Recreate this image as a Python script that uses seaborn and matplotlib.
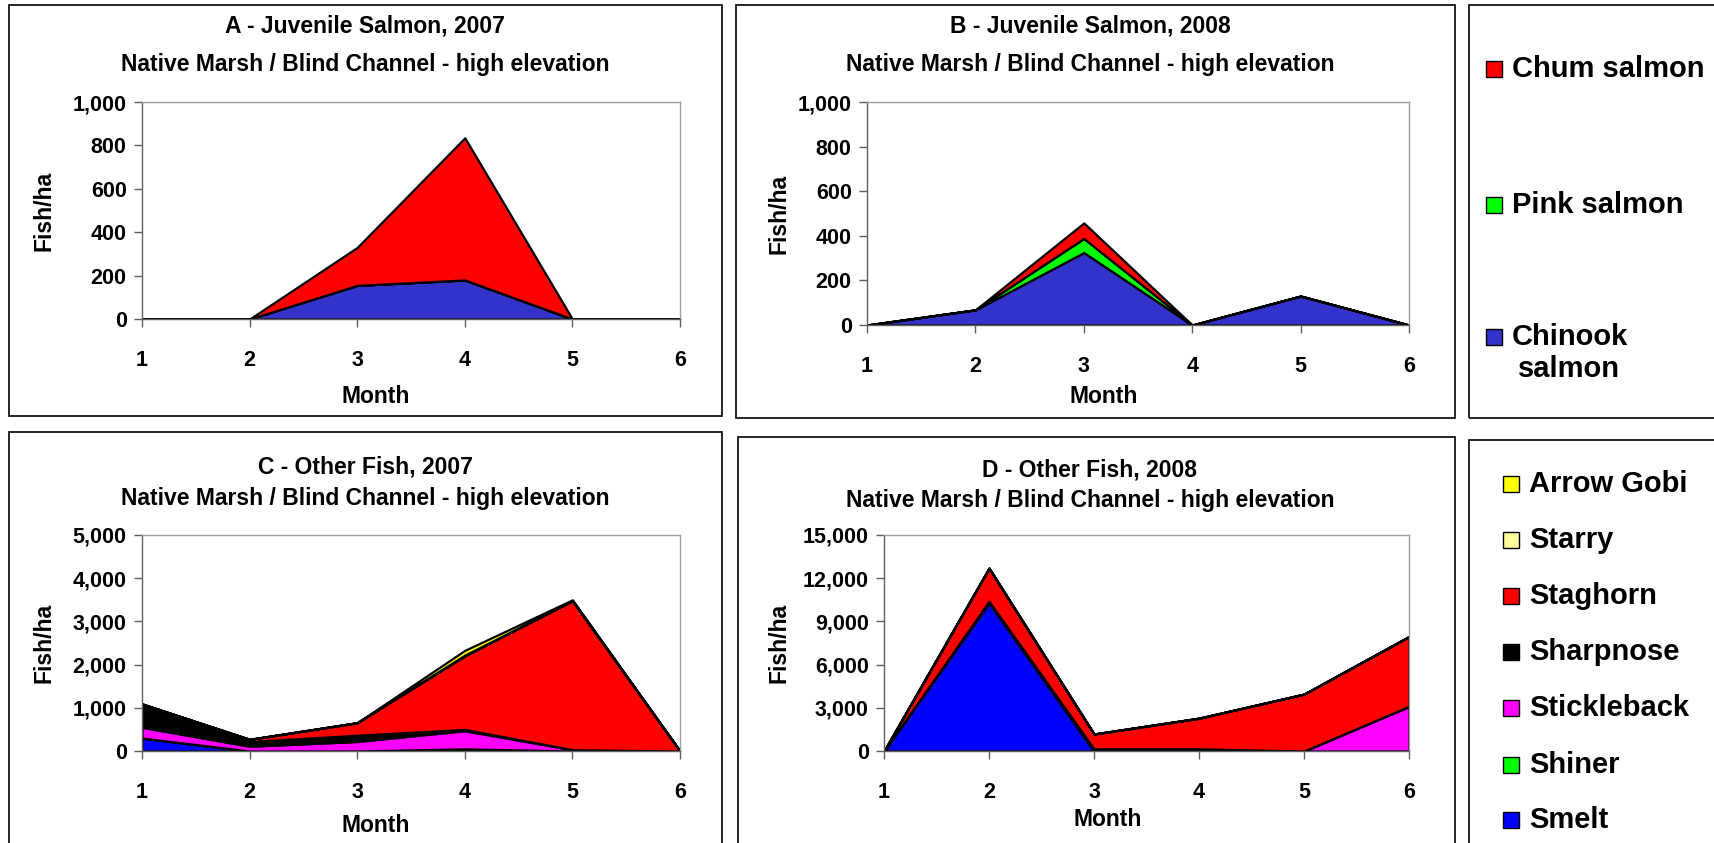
import matplotlib
matplotlib.use("Agg")
import matplotlib.pyplot as plt
from matplotlib import font_manager
from matplotlib.patches import Rectangle
from matplotlib.ticker import FuncFormatter
import seaborn as sns

months = [1, 2, 3, 4, 5, 6]

# juvenile salmon, stacked bottom to top
salmon_names = ["Chinook salmon", "Pink salmon", "Chum salmon"]
salmon_colors = ["#3333CC", "#00FF00", "#FF0000"]
chinook_2007 = [0, 0, 155, 180, 0, 0]
pink_2007 = [0, 0, 0, 0, 0, 0]
chum_2007 = [0, 0, 175, 655, 0, 0]
chinook_2008 = [0, 68, 325, 0, 130, 0]
pink_2008 = [0, 0, 63, 0, 0, 0]
chum_2008 = [0, 0, 70, 0, 0, 0]

# other fish, stacked bottom to top
other_names = ["Smelt", "Shiner", "Stickleback", "Sharpnose", "Staghorn", "Starry", "Arrow Gobi"]
other_colors = ["#0000FF", "#00FF00", "#FF00FF", "#000000", "#FF0000", "#FFFF99", "#FFFF00"]
smelt_2007 = [300, 0, 0, 50, 0, 0]
shiner_2007 = [0, 0, 0, 0, 0, 0]
stickleback_2007 = [250, 110, 220, 420, 30, 0]
sharpnose_2007 = [540, 110, 145, 30, 0, 0]
staghorn_2007 = [0, 50, 290, 1700, 3450, 0]
starry_2007 = [0, 0, 0, 20, 0, 0]
arrowgobi_2007 = [0, 0, 0, 110, 20, 0]
smelt_2008 = [0, 10300, 0, 0, 0, 0]
shiner_2008 = [0, 0, 0, 0, 0, 0]
stickleback_2008 = [0, 0, 0, 0, 0, 3100]
sharpnose_2008 = [0, 100, 150, 150, 0, 0]
staghorn_2008 = [0, 2300, 1030, 2130, 3950, 4850]
starry_2008 = [0, 0, 0, 0, 0, 0]
arrowgobi_2008 = [0, 0, 0, 0, 0, 0]

sns.set_theme(style="white")
names = {f.name for f in font_manager.fontManager.ttflist}
if "Liberation Sans Narrow" in names:
    narrow, k = "Liberation Sans Narrow", 1.18
else:
    narrow, k = "Liberation Sans", 0.97
plt.rcParams["font.family"] = ["Liberation Sans", "DejaVu Sans"]
plt.rcParams["text.color"] = "black"

W, H = 1715, 843
fig = plt.figure(figsize=(W / 100, H / 100), dpi=100)


def fx(x):
    return x / W


def fy(y):
    return 1 - y / H


def frame(x0, y0, x1, y1):
    fig.patches.append(Rectangle((fx(x0), fy(y1)), fx(x1 - x0), (y1 - y0) / H,
                                 transform=fig.transFigure, fill=False,
                                 edgecolor="black", linewidth=1.2))


def panel(box, series, colors, ymax, ystep, title, cx, ty, mx, my, lx):
    x0, y0, x1, y1 = box
    ax = fig.add_axes([fx(x0), fy(y1), fx(x1 - x0), (y1 - y0) / H])
    ax.stackplot(months, *series, colors=colors, edgecolor="black", linewidth=1.6)
    ax.set_xlim(1, 6)
    ax.set_ylim(0, ymax)
    ax.set_xticks(months)
    ax.set_yticks(range(0, ymax + 1, ystep))
    ax.yaxis.set_major_formatter(FuncFormatter(lambda v, p: f"{int(v):,}"))
    for s in ["top", "right"]:
        ax.spines[s].set_color("#A0A0A0")
    for s in ["left", "bottom"]:
        ax.spines[s].set_color("#606060")
    for s in ax.spines.values():
        s.set_linewidth(1.0)
    ax.tick_params(axis="both", direction="out", length=6, width=1, color="#606060",
                   labelcolor="black", labelsize=16 * k)
    ax.tick_params(axis="x", pad=16, bottom=True)
    ax.tick_params(axis="y", pad=5, left=True)
    for lab in ax.get_xticklabels() + ax.get_yticklabels():
        lab.set_fontfamily(narrow)
        lab.set_fontweight("bold")
    t1, t2 = title
    fig.text(fx(cx), fy(ty[0]), t1, ha="center", va="center", fontsize=17 * k,
             fontweight="bold", family=narrow)
    fig.text(fx(cx), fy(ty[1]), t2, ha="center", va="center", fontsize=17 * k,
             fontweight="bold", family=narrow)
    fig.text(fx(mx), fy(my), "Month", ha="center", va="center", fontsize=17 * k,
             fontweight="bold", family=narrow)
    fig.text(fx(lx), fy((y0 + y1) / 2), "Fish/ha", ha="center", va="center",
             rotation=90, fontsize=17 * k, fontweight="bold", family=narrow)
    return ax


sub = "Native Marsh / Blind Channel - high elevation"

frame(9, 5, 722, 416)
frame(736, 5, 1455, 418)
frame(1469, 5, 1730, 418)
frame(9, 432, 722, 860)
frame(738, 437, 1455, 860)
frame(1469, 440, 1730, 860)

panel((142, 102, 680, 319), [chinook_2007, pink_2007, chum_2007], salmon_colors,
      1000, 200, ("A - Juvenile Salmon, 2007", sub), 365, (26, 65), 376, 396, 44)
panel((867, 102, 1409, 325), [chinook_2008, pink_2008, chum_2008], salmon_colors,
      1000, 200, ("B - Juvenile Salmon, 2008", sub), 1090, (26, 65), 1104, 396, 779)
panel((142, 535, 680, 751),
      [smelt_2007, shiner_2007, stickleback_2007, sharpnose_2007, staghorn_2007,
       starry_2007, arrowgobi_2007], other_colors,
      5000, 1000, ("C - Other Fish, 2007", sub), 365, (467, 499), 376, 826, 44)
panel((884, 535, 1409, 751),
      [smelt_2008, shiner_2008, stickleback_2008, sharpnose_2008, staghorn_2008,
       starry_2008, arrowgobi_2008], other_colors,
      15000, 3000, ("D - Other Fish, 2008", sub), 1090, (470, 500), 1108, 820, 779)

# legend boxes drawn by hand to keep the Excel spacing
def legend_item(x, y, color, label):
    fig.patches.append(Rectangle((fx(x), fy(y + 8)), fx(16), 16 / H,
                                 transform=fig.transFigure, facecolor=color,
                                 edgecolor="black", linewidth=1))
    fig.text(fx(x + 26), fy(y), label, ha="left", va="center", fontsize=21,
             fontweight="bold")


legend_item(1486, 69, salmon_colors[2], "Chum salmon")
legend_item(1486, 205, salmon_colors[1], "Pink salmon")
legend_item(1486, 337, salmon_colors[0], "Chinook")
fig.text(fx(1518), fy(369), "salmon", ha="left", va="center", fontsize=21,
         fontweight="bold")

ys = [484, 540, 596, 652, 708, 765, 820]
for y, name, color in zip(ys, other_names[::-1], other_colors[::-1]):
    legend_item(1503, y, color, name)

fig.savefig("out.png", dpi=100)
